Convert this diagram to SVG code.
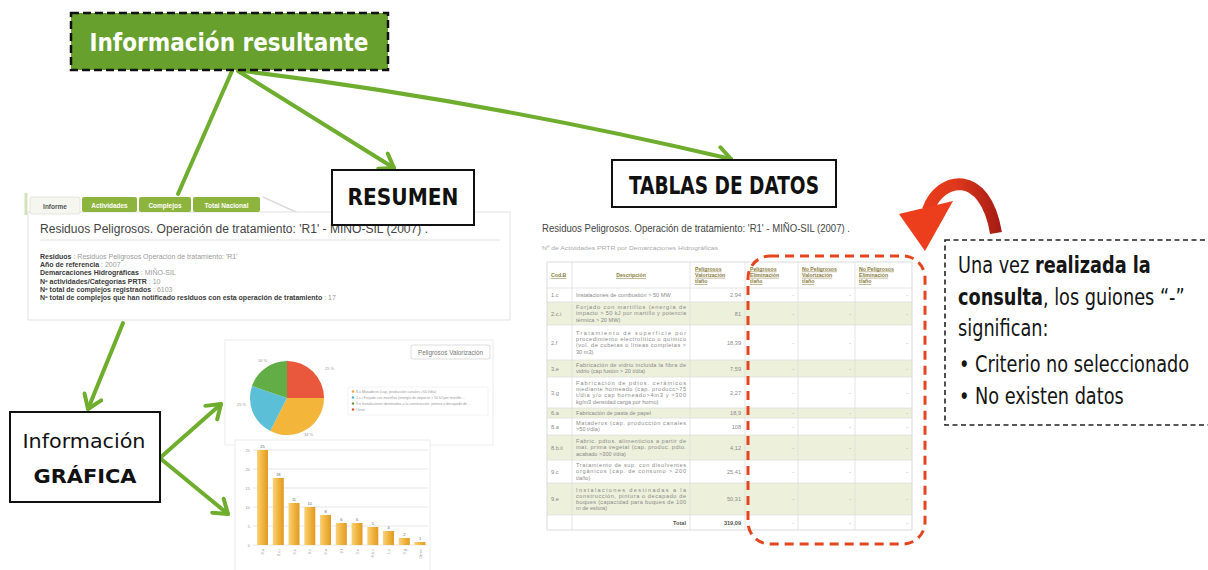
<svg xmlns="http://www.w3.org/2000/svg" width="1208" height="570" viewBox="0 0 1208 570">
<defs>
<style>
.cond{font-family:'DejaVu Sans Condensed','DejaVu Sans','Liberation Sans',sans-serif}
.conn{fill:none;stroke:#6fad2f;stroke-width:4;stroke-linecap:round}
.box{fill:#fff;stroke:#111;stroke-width:2}
.tab{fill:#8db43c}
.tabt{font-family:'Liberation Sans',sans-serif;font-size:6.5px;font-weight:bold;fill:#fff;text-anchor:middle}
.lbl{font-family:'Liberation Sans',sans-serif;font-size:7px;font-weight:bold;fill:#3a3a3a}
.val{font-weight:normal;fill:#9a9a9a}
.desc{font-family:'Liberation Sans',sans-serif;font-size:5.6px;fill:#8a8a8a}
.num{font-family:'Liberation Sans',sans-serif;font-size:5.6px;fill:#8a8a8a;text-anchor:end}
.code{font-family:'Liberation Sans',sans-serif;font-size:5.6px;fill:#8a8a8a}
.hd{font-family:'Liberation Sans',sans-serif;font-size:5.2px;font-weight:bold;fill:#8a7c3e;text-decoration:underline}
.grid{stroke:#dcdcdc;stroke-width:0.7}
.tline{stroke:#dedede;stroke-width:0.8}
.green{fill:#edf0da}
.tiny{font-family:'Liberation Sans',sans-serif;font-size:4px;fill:#999}
.note{font-family:'DejaVu Sans','Liberation Sans',sans-serif;font-size:23px;fill:#151515}
.bar{fill:url(#bar)}
</style>
<marker id="chev" markerUnits="userSpaceOnUse" viewBox="-16 -11 20 22" markerWidth="20" markerHeight="22" refX="0" refY="0" orient="auto">
<path d="M-13,-9 L0,0 L-13,9" fill="none" stroke="#6fad2f" stroke-width="4" stroke-linecap="round" stroke-linejoin="round"/>
</marker>
<linearGradient id="bar" x1="0" x2="1" y1="0" y2="0"><stop offset="0" stop-color="#f9d27a"/><stop offset="0.5" stop-color="#f0b540"/><stop offset="1" stop-color="#e19a22"/></linearGradient>
<linearGradient id="redarrow" gradientUnits="userSpaceOnUse" x1="900" y1="0" x2="1000" y2="0"><stop offset="0" stop-color="#ee3e1c"/><stop offset="0.55" stop-color="#df381c"/><stop offset="1" stop-color="#a51c14"/></linearGradient>
</defs>
<rect width="1208" height="570" fill="#fff"/>

<!-- Informe panel -->
<g id="informe-panel">
<line x1="26" y1="193" x2="26" y2="215" stroke="#d3e3b8" stroke-width="3"/>
<line x1="263" y1="197" x2="298" y2="213" stroke="#dcdcdc" stroke-width="1.5"/>
<rect x="28" y="212" width="482" height="108" fill="#fff" stroke="#e2e2e2"/>
<rect x="30" y="197" width="50" height="17" rx="2" fill="#f6f6f0" stroke="#dcdcd0" stroke-width="0.7"/>
<text x="55" y="209" class="tabt" style="fill:#555">Informe</text>
<rect x="82" y="197" width="55" height="15" rx="2" class="tab"/>
<text x="109.5" y="208" class="tabt">Actividades</text>
<rect x="139" y="197" width="52" height="15" rx="2" class="tab"/>
<text x="165" y="208" class="tabt">Complejos</text>
<rect x="193" y="197" width="67" height="15" rx="2" class="tab"/>
<text x="226.5" y="208" class="tabt">Total Nacional</text>
<text x="40" y="233" font-family="'Liberation Sans',sans-serif" font-size="12" fill="#444" textLength="388" lengthAdjust="spacingAndGlyphs">Residuos Peligrosos. Operación de tratamiento: 'R1' - MIÑO-SIL (2007) .</text>
<line x1="40" y1="240" x2="500" y2="240" stroke="#e0e0e0"/>
<text x="40" y="259" class="lbl">Residuos <tspan class="val">: Residuos Peligrosos Operación de tratamiento: 'R1'</tspan></text>
<text x="40" y="267.2" class="lbl">Año de referencia <tspan class="val">: 2007</tspan></text>
<text x="40" y="275.4" class="lbl">Demarcaciones Hidrográficas <tspan class="val">: MIÑO-SIL</tspan></text>
<text x="40" y="283.6" class="lbl">Nº actividades/Categorías PRTR <tspan class="val">: 10</tspan></text>
<text x="40" y="291.8" class="lbl">Nº total de complejos registrados <tspan class="val">: 6103</tspan></text>
<text x="40" y="300" class="lbl">Nº total de complejos que han notificado residuos con esta operación de tratamiento <tspan class="val">: 17</tspan></text>
</g>

<!-- Pie chart -->
<g id="pie-chart">
<rect x="225" y="340" width="268" height="105" fill="#fff" stroke="#ececec"/>
<rect x="411" y="345" width="79" height="14" rx="2" fill="#fff" stroke="#cfcfcf" stroke-width="0.7"/>
<text x="450.5" y="354.5" text-anchor="middle" font-family="'Liberation Sans',sans-serif" font-size="6.3" fill="#777">Peligrosos Valorización</text>
<path d="M287,398 L287,361 A37,37 0 0 1 324,398 Z" fill="#e9573c"/>
<path d="M287,398 L324,398 A37,37 0 0 1 270.2,431 Z" fill="#f3b53a"/>
<path d="M287,398 L270.2,431 A37,37 0 0 1 252,386 Z" fill="#5bbfd8"/>
<path d="M287,398 L252,386 A37,37 0 0 1 287,361 Z" fill="#62ad45"/>
<text x="325" y="370" class="tiny">25 %</text>
<text x="304" y="436" class="tiny">34 %</text>
<text x="237" y="406" class="tiny">25 %</text>
<text x="258" y="362" class="tiny">16 %</text>
<rect x="348" y="387" width="140" height="28" fill="#fff" stroke="#ededed" stroke-width="0.7"/>
<circle cx="353" cy="391.5" r="1.2" fill="#f0a632"/>
<text x="356" y="393" class="tiny" style="font-size:3.6px">8.a Mataderos (cap. producción canales &gt;50 t/día)</text>
<circle cx="353" cy="397.5" r="1.2" fill="#45b4c8"/>
<text x="356" y="399" class="tiny" style="font-size:3.6px">2.c.i Forjado con martillos (energía de impacto &gt; 50 kJ por martillo ...</text>
<circle cx="353" cy="403.5" r="1.2" fill="#5a9a3a"/>
<text x="356" y="405" class="tiny" style="font-size:3.6px">9.e Instalaciones destinadas a la construcción, pintura o decapado de ...</text>
<circle cx="353" cy="409.5" r="1.2" fill="#e05030"/>
<text x="356" y="411" class="tiny" style="font-size:3.6px">Otros</text>
</g>

<!-- Bar chart -->
<g id="bar-chart">
<rect x="235" y="440" width="195" height="140" fill="#fff" stroke="#ececec"/>
<g class="grid">
<line x1="253" y1="450" x2="428" y2="450"/><line x1="253" y1="469" x2="428" y2="469"/>
<line x1="253" y1="488" x2="428" y2="488"/><line x1="253" y1="507" x2="428" y2="507"/>
<line x1="253" y1="526" x2="428" y2="526"/><line x1="253" y1="545" x2="428" y2="545"/>
</g>
<g class="tiny" text-anchor="end">
<text x="250" y="451.5">25</text><text x="250" y="470.5">20</text><text x="250" y="489.5">15</text>
<text x="250" y="508.5">10</text><text x="250" y="527.5">5</text><text x="250" y="546.5">0</text>
</g>
<rect class="bar" x="257" y="450" width="11" height="95"/>
<rect class="bar" x="272.8" y="478" width="11" height="67"/>
<rect class="bar" x="288.5" y="503" width="11" height="42"/>
<rect class="bar" x="304.3" y="507" width="11" height="38"/>
<rect class="bar" x="320" y="515" width="11" height="30"/>
<rect class="bar" x="335.8" y="523" width="11" height="22"/>
<rect class="bar" x="351.5" y="523" width="11" height="22"/>
<rect class="bar" x="367.3" y="527" width="11" height="18"/>
<rect class="bar" x="383" y="531" width="11" height="14"/>
<rect class="bar" x="398.8" y="538" width="11" height="7"/>
<rect class="bar" x="414.5" y="542" width="11" height="3"/>
<g class="tiny" text-anchor="middle" style="fill:#666">
<text x="262.5" y="448">25</text><text x="278.3" y="476">18</text><text x="294" y="501">11</text>
<text x="309.8" y="505">10</text><text x="325.5" y="513">8</text><text x="341.3" y="521">6</text>
<text x="357" y="521">6</text><text x="372.8" y="525">5</text><text x="388.5" y="529">4</text>
<text x="404.3" y="536">2</text><text x="420" y="540">1</text>
</g>
<g class="tiny" text-anchor="end">
<text transform="translate(264,549) rotate(-90)">8.a</text>
<text transform="translate(279.8,549) rotate(-90)">2.c.i</text>
<text transform="translate(295.5,549) rotate(-90)">9.e</text>
<text transform="translate(311.3,549) rotate(-90)">9.c</text>
<text transform="translate(327,549) rotate(-90)">6.a</text>
<text transform="translate(342.8,549) rotate(-90)">2.f</text>
<text transform="translate(358.5,549) rotate(-90)">3.e</text>
<text transform="translate(374.3,549) rotate(-90)">8.b.ii</text>
<text transform="translate(390,549) rotate(-90)">1.c</text>
<text transform="translate(405.8,549) rotate(-90)">3.g</text>
<text transform="translate(421.5,549) rotate(-90)">Otros</text>
</g>
</g>

<!-- Data table -->
<g id="data-table">
<text x="542" y="232" font-family="'Liberation Sans',sans-serif" font-size="10" fill="#444" textLength="308" lengthAdjust="spacingAndGlyphs">Residuos Peligrosos. Operación de tratamiento: 'R1' - MIÑO-SIL (2007) .</text>
<text x="542" y="250" font-family="'Liberation Sans',sans-serif" font-size="6" fill="#aaa" textLength="176" lengthAdjust="spacingAndGlyphs">Nº de Actividades PRTR por Demarcaciones Hidrográficas</text>
<rect x="547" y="262" width="365" height="268" fill="#fff"/>
<rect class="green" x="547" y="302" width="365" height="23"/>
<rect class="green" x="547" y="360" width="365" height="17"/>
<rect class="green" x="547" y="408" width="365" height="10"/>
<rect class="green" x="547" y="435" width="365" height="25"/>
<rect class="green" x="547" y="483" width="365" height="32"/>
<g class="tline">
<line x1="547" y1="288" x2="912" y2="288"/><line x1="547" y1="302" x2="912" y2="302"/>
<line x1="547" y1="325" x2="912" y2="325"/><line x1="547" y1="360" x2="912" y2="360"/>
<line x1="547" y1="377" x2="912" y2="377"/><line x1="547" y1="408" x2="912" y2="408"/>
<line x1="547" y1="418" x2="912" y2="418"/><line x1="547" y1="435" x2="912" y2="435"/>
<line x1="547" y1="460" x2="912" y2="460"/><line x1="547" y1="483" x2="912" y2="483"/>
<line x1="547" y1="515" x2="912" y2="515"/>
<line x1="572" y1="262" x2="572" y2="530"/><line x1="690" y1="262" x2="690" y2="530"/>
<line x1="745" y1="262" x2="745" y2="530"/><line x1="798" y1="262" x2="798" y2="530"/>
<line x1="855" y1="262" x2="855" y2="530"/>
</g>
<rect x="547" y="262" width="365" height="268" fill="none" stroke="#d8d8d8" stroke-width="0.9"/>
<text x="551" y="277" class="hd">Cod.B</text>
<text x="631" y="277" class="hd" text-anchor="middle">Descripción</text>
<text class="hd"><tspan x="695" y="270.6">Peligrosos</tspan><tspan x="695" y="276.8">Valorización</tspan><tspan x="695" y="283">t/año</tspan></text>
<text class="hd"><tspan x="750" y="270.6">Peligrosos</tspan><tspan x="750" y="276.8">Eliminación</tspan><tspan x="750" y="283">t/año</tspan></text>
<text class="hd"><tspan x="802" y="270.6">No Peligrosos</tspan><tspan x="802" y="276.8">Valorización</tspan><tspan x="802" y="283">t/año</tspan></text>
<text class="hd"><tspan x="859" y="270.6">No Peligrosos</tspan><tspan x="859" y="276.8">Eliminación</tspan><tspan x="859" y="283">t/año</tspan></text>

<g class="code">
<text x="551" y="297">1.c</text><text x="551" y="315.5">2.c.i</text><text x="551" y="344.5">2.f</text>
<text x="551" y="370.5">3.e</text><text x="551" y="394.5">3.g</text><text x="551" y="415">6.a</text>
<text x="551" y="428.5">8.a</text><text x="551" y="449.5">8.b.ii</text><text x="551" y="473.5">9.c</text>
<text x="551" y="501">9.e</text>
</g>

<g class="desc">
<text x="576" y="296.8">Instalaciones de combustión &gt; 50 MW</text>
<text x="576" y="309.1" textLength="110" lengthAdjust="spacing">Forjado con martillos (energía de</text>
<text x="576" y="315.3" textLength="110" lengthAdjust="spacing">impacto &gt; 50 kJ por martillo y potencia</text>
<text x="576" y="321.5">térmica &gt; 20 MW)</text>
<text x="576" y="335" textLength="110" lengthAdjust="spacing">Tratamiento de superficie por</text>
<text x="576" y="341.2" textLength="110" lengthAdjust="spacing">procedimiento electrolítico o químico</text>
<text x="576" y="347.4" textLength="110" lengthAdjust="spacing">(vol. de cubetas o líneas completas &gt;</text>
<text x="576" y="353.6">30 m3)</text>
<text x="576" y="367.2" textLength="110" lengthAdjust="spacing">Fabricación de vidrio incluida la fibra de</text>
<text x="576" y="373.4">vidrio (cap fusión &gt; 20 t/día)</text>
<text x="576" y="385" textLength="110" lengthAdjust="spacing">Fabricación de pdtos. cerámicos</text>
<text x="576" y="391.2" textLength="110" lengthAdjust="spacing">mediante horneado (cap. producc&gt;75</text>
<text x="576" y="397.4" textLength="110" lengthAdjust="spacing">t/día y/o cap horneado&gt;4m3 y &gt;300</text>
<text x="576" y="403.6">kg/m3 densidad carga por horno)</text>
<text x="576" y="414.8">Fabricación de pasta de papel</text>
<text x="576" y="425.2" textLength="110" lengthAdjust="spacing">Mataderos (cap. producción canales</text>
<text x="576" y="431.4">&gt;50 t/día)</text>
<text x="576" y="443.1" textLength="110" lengthAdjust="spacing">Fabric. pdtos. alimenticios a partir de</text>
<text x="576" y="449.3" textLength="110" lengthAdjust="spacing">mat. prima vegetal (cap. produc. pdto.</text>
<text x="576" y="455.5">acabado &gt;300 t/día)</text>
<text x="576" y="467.1" textLength="110" lengthAdjust="spacing">Tratamiento de sup. con disolventes</text>
<text x="576" y="473.3" textLength="110" lengthAdjust="spacing">orgánicos (cap. de consumo &gt; 200</text>
<text x="576" y="479.5">t/año)</text>
<text x="576" y="491.5" textLength="110" lengthAdjust="spacing">Instalaciones destinadas a la</text>
<text x="576" y="497.7" textLength="110" lengthAdjust="spacing">construcción, pintura o decapado de</text>
<text x="576" y="503.9" textLength="110" lengthAdjust="spacing">buques (capacidad para buques de 100</text>
<text x="576" y="510.1">m de eslora)</text>
<text x="686" y="524.5" text-anchor="end" font-weight="bold" style="fill:#555">Total</text>
</g>

<g class="num">
<text x="741" y="297">2,94</text><text x="741" y="315.5">81</text><text x="741" y="344.5">18,39</text>
<text x="741" y="370.5">7,59</text><text x="741" y="394.5">2,27</text><text x="741" y="415">18,9</text>
<text x="741" y="428.5">108</text><text x="741" y="449.5">4,12</text><text x="741" y="473.5">25,41</text>
<text x="741" y="501">50,31</text><text x="741" y="524.5" font-weight="bold" style="fill:#555">319,09</text>
</g>
<g class="num" style="fill:#aaa">
<text x="794" y="297">-</text><text x="851" y="297">-</text><text x="908" y="297">-</text>
<text x="794" y="315.5">-</text><text x="851" y="315.5">-</text><text x="908" y="315.5">-</text>
<text x="794" y="344.5">-</text><text x="851" y="344.5">-</text><text x="908" y="344.5">-</text>
<text x="794" y="370.5">-</text><text x="851" y="370.5">-</text><text x="908" y="370.5">-</text>
<text x="794" y="394.5">-</text><text x="851" y="394.5">-</text><text x="908" y="394.5">-</text>
<text x="794" y="415">-</text><text x="851" y="415">-</text><text x="908" y="415">-</text>
<text x="794" y="428.5">-</text><text x="851" y="428.5">-</text><text x="908" y="428.5">-</text>
<text x="794" y="449.5">-</text><text x="851" y="449.5">-</text><text x="908" y="449.5">-</text>
<text x="794" y="473.5">-</text><text x="851" y="473.5">-</text><text x="908" y="473.5">-</text>
<text x="794" y="501">-</text><text x="851" y="501">-</text><text x="908" y="501">-</text>
<text x="794" y="524.5">-</text><text x="851" y="524.5">-</text><text x="908" y="524.5">-</text>
</g>
</g>

<!-- Red highlight -->
<g id="red-highlight">
<rect x="748" y="256" width="177" height="288" rx="22" fill="none" stroke="#e4451f" stroke-width="3" stroke-dasharray="9 6"/>
</g>

<!-- Red curved arrow -->
<g id="red-arrow">
<path d="M928,210 C940,176 985,168 996,233" fill="none" stroke="url(#redarrow)" stroke-width="12"/>
<polygon points="899,214 953,201 925,251" fill="#ec3d1c"/>
</g>

<!-- Note -->
<g id="note">
<rect x="945" y="240" width="275" height="185" fill="#fff" stroke="#222" stroke-width="1.6" stroke-dasharray="5 3.5"/>
<text class="note" transform="translate(958,273) scale(0.77,1)">Una vez <tspan font-weight="bold">realizada la</tspan></text>
<text class="note" transform="translate(958,305) scale(0.77,1)"><tspan font-weight="bold">consulta</tspan>, los guiones “-”</text>
<text class="note" transform="translate(958,336) scale(0.77,1)">significan:</text>
<text class="note" transform="translate(959,372) scale(0.77,1)">• Criterio no seleccionado</text>
<text class="note" transform="translate(959,404) scale(0.77,1)">• No existen datos</text>
</g>

<!-- Connectors -->
<g id="connectors">
<path class="conn" d="M232,71 L178,194"/>
<path class="conn" d="M238,71 L394,168" marker-end="url(#chev)"/>
<path class="conn" d="M243,71 Q480,100 731,159" marker-end="url(#chev)"/>
<path class="conn" d="M123,323 L88,409" marker-end="url(#chev)"/>
<path class="conn" d="M161,457 L221,404" marker-end="url(#chev)"/>
<path class="conn" d="M161,459 L228,514" marker-end="url(#chev)"/>
</g>

<!-- Title -->
<g id="title">
<rect x="71" y="13" width="317" height="57" fill="#67a02c" stroke="#111" stroke-width="2.5" stroke-dasharray="8 4"/>
<text x="229" y="51" text-anchor="middle" class="cond" font-size="25" font-weight="bold" fill="#fff" textLength="279" lengthAdjust="spacingAndGlyphs">Información resultante</text>
</g>

<!-- RESUMEN -->
<g id="resumen">
<rect class="box" x="332" y="170" width="142" height="55"/>
<text x="403" y="205" text-anchor="middle" class="cond" font-size="23" font-weight="bold" fill="#111" textLength="111" lengthAdjust="spacingAndGlyphs">RESUMEN</text>
</g>

<!-- TABLAS DE DATOS -->
<g id="tablas">
<rect class="box" x="612" y="160" width="224" height="47"/>
<text x="724" y="194" text-anchor="middle" class="cond" font-size="24" font-weight="bold" fill="#111" textLength="190" lengthAdjust="spacingAndGlyphs">TABLAS DE DATOS</text>
</g>

<!-- Información GRÁFICA -->
<g id="grafica">
<rect class="box" x="10" y="412" width="150" height="90"/>
<text x="84" y="448" text-anchor="middle" class="cond" font-size="20" fill="#111" textLength="123" lengthAdjust="spacingAndGlyphs">Información</text>
<text x="85" y="483" text-anchor="middle" class="cond" font-size="20" font-weight="bold" fill="#111" textLength="103" lengthAdjust="spacingAndGlyphs">GRÁFICA</text>
</g>
</svg>
